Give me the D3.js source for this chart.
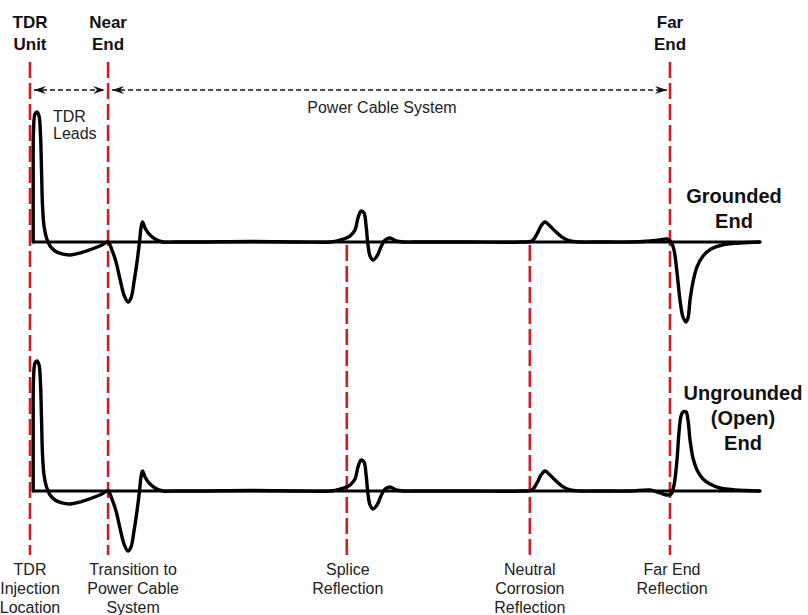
<!DOCTYPE html>
<html><head><meta charset="utf-8">
<script src="https://cdn.jsdelivr.net/npm/d3@7"></script>
<style>
html,body{margin:0;padding:0;background:#fff;}
svg{display:block;font-family:"Liberation Sans",Arial,Helvetica,sans-serif;}
</style></head>
<body><svg id="chart" width="808" height="615"></svg>
<script>
// ---- data: positions along the cable (far end = 100), amplitudes normalised (launch pulse = 1)
const markerNames = ["TDR Unit", "Near End", "Splice", "Neutral Corrosion", "Far End"];
const markerPos = [0, 12.2, 49.5, 78.1, 100];
const topLabels = [["TDR", "Unit"], ["Near", "End"], null, null, ["Far", "End"]];
const bottomLabels = [["TDR", "Injection", "Location"], ["Transition to", "Power Cable", "System"], ["Splice", "Reflection"], ["Neutral", "Corrosion", "Reflection"], ["Far End", "Reflection"]];
const traceNames = [["Grounded", "End"], ["Ungrounded", "(Open)", "End"]];
const spanLabels = [["TDR", "Leads"], ["Power Cable System"]];

// common part of both traces (launch pulse -> just before far end)
const commonX = [0.5, 0.5, 0.55, 0.78, 1.09, 1.41, 1.64, 1.8, 1.95, 2.19, 2.58, 3.13, 3.91, 5.0, 6.25, 7.81, 9.69, 11.25, 12.19,
  12.81, 13.44, 14.06, 14.69, 15.31, 15.78, 16.25, 16.72, 17.11, 17.34, 17.58, 17.97, 18.59, 19.53, 20.78, 22.66,
  26.56, 34.38, 42.19, 46.88,
  48.44, 50.0, 50.78, 51.25, 51.72, 52.19, 52.5, 52.81, 53.13, 53.59, 54.22, 54.84, 55.47, 56.25, 57.19, 58.44, 60.94,
  68.75, 76.56,
  78.44, 79.22, 79.84, 80.47, 81.09, 82.03, 83.13, 84.38, 85.94, 89.06, 93.75, 96.88];
const commonY = [0, 0.477, 0.862, 0.985, 1.0, 0.969, 0.823, 0.554, 0.285, 0.123, 0.031, -0.031, -0.069, -0.092, -0.1, -0.085, -0.054, -0.023, 0,
  -0.062, -0.154, -0.285, -0.408, -0.462, -0.431, -0.308, -0.154, 0, 0.108, 0.154, 0.108, 0.062, 0.023, 0, 0,
  0, 0.004, 0, 0,
  0.015, 0.046, 0.092, 0.185, 0.238, 0.223, 0.131, -0.023, -0.108, -0.138, -0.108, -0.038, 0.015, 0.031, 0.008, 0, 0,
  0, 0,
  0.008, 0.062, 0.123, 0.154, 0.131, 0.085, 0.038, 0.008, 0, 0, 0, 0.008];
// far-end tails
const groundedX = [98.44, 99.53, 100.16, 100.63, 101.09, 101.56, 102.03, 102.5, 102.81, 103.13, 103.59, 104.22, 105.16, 106.41, 108.13, 110.94, 114.06];
const groundedY = [0.015, 0.023, 0, -0.062, -0.231, -0.446, -0.577, -0.615, -0.585, -0.446, -0.308, -0.192, -0.108, -0.054, -0.023, -0.008, 0];
const openX = [98.44, 99.53, 100.16, 100.63, 101.09, 101.41, 101.72, 102.03, 102.5, 102.81, 103.13, 103.59, 104.22, 105.16, 106.25, 107.81, 110.16, 114.06];
const openY = [-0.015, -0.031, -0.023, 0.046, 0.238, 0.454, 0.577, 0.608, 0.608, 0.546, 0.392, 0.254, 0.162, 0.092, 0.054, 0.023, 0.008, 0];
const traceStart = 0.5, traceEnd = 114.06;

// ---- scales
const svg = d3.select("#chart");
const x = d3.scaleLinear().domain([0, 100]).range([30, 670]);
const yScales = [
  d3.scaleLinear().domain([0, 1]).range([242, 112]),
  d3.scaleLinear().domain([0, 1]).range([491, 361])
];

// ---- red dashed event lines
const red = "#cc1f26";
const lineTop = [62, 62, 245, 245, 62];
svg.append("g").selectAll("line").data(markerPos).join("line")
  .attr("x1", d => x(d)).attr("x2", d => x(d))
  .attr("y1", (d, i) => lineTop[i]).attr("y2", 555)
  .attr("stroke", red).attr("stroke-width", 2.6).attr("stroke-dasharray", "16,5");

// ---- arrows
const defs = svg.append("defs");
defs.append("marker").attr("id", "ah").attr("viewBox", "0 0 12 8")
  .attr("refX", 12).attr("refY", 4).attr("markerWidth", 12).attr("markerHeight", 8)
  .attr("markerUnits", "userSpaceOnUse").attr("orient", "auto-start-reverse")
  .append("path").attr("d", "M0,0 L12,4 L0,8 L4,4 Z").attr("fill", "#111");
const spans = [[markerPos[0], markerPos[1]], [markerPos[1], markerPos[4]]];
svg.append("g").selectAll("line").data(spans).join("line")
  .attr("x1", d => x(d[0]) + 4).attr("x2", d => x(d[1]) - 3)
  .attr("y1", 90).attr("y2", 90)
  .attr("stroke", "#111").attr("stroke-width", 1.5).attr("stroke-dasharray", "5,3")
  .attr("marker-start", "url(#ah)").attr("marker-end", "url(#ah)");

// ---- traces
const line = d3.line().curve(d3.curveCatmullRom.alpha(0.5));
const tails = [[groundedX, groundedY], [openX, openY]];
yScales.forEach((y, k) => {
  const g = svg.append("g");
  // baseline
  g.append("line").attr("x1", x(traceStart)).attr("x2", x(traceEnd))
    .attr("y1", y(0)).attr("y2", y(0)).attr("stroke", "#000").attr("stroke-width", 3);
  const pts = commonX.map((v, i) => [x(v), y(commonY[i])])
    .concat(tails[k][0].map((v, i) => [x(v), y(tails[k][1][i])]));
  g.append("path").attr("d", line(pts)).attr("fill", "none")
    .attr("stroke", "#000").attr("stroke-width", 3.4).attr("stroke-linejoin", "round").attr("stroke-linecap", "round");
});

// ---- text
function multi(sel, lines, cx, y0, dy, opts) {
  const t = svg.append("text").attr("text-anchor", opts.anchor || "middle")
    .attr("font-size", opts.size).attr("font-weight", opts.weight || "normal").attr("fill", opts.fill || "#222");
  lines.forEach((s, i) => t.append("tspan").attr("x", cx).attr("y", y0 + i * dy).text(s));
}
topLabels.forEach((l, i) => { if (l) multi(svg, l, x(markerPos[i]), 28, 22, {size: 17, weight: "bold", fill: "#111"}); });
const bottomDx = [0, 25, 1, 0, 2];
bottomLabels.forEach((l, i) => multi(svg, l, x(markerPos[i]) + bottomDx[i], 575, 19, {size: 16}));
multi(svg, spanLabels[0], 53, 122, 17, {size: 16, anchor: "start"});
multi(svg, spanLabels[1], 382, 113, 17, {size: 16});
multi(svg, traceNames[0], 734, 203, 25, {size: 20, weight: "bold", fill: "#111"});
multi(svg, traceNames[1], 743, 400, 25, {size: 20, weight: "bold", fill: "#111"});
</script></body></html>
